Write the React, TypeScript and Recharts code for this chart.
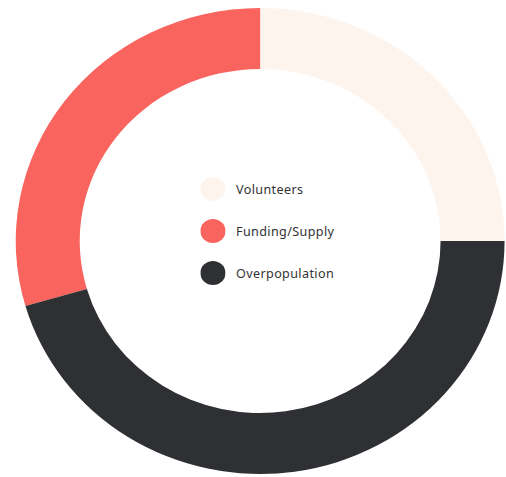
import { PieChart, Pie, Cell, Legend } from "recharts";

const CATEGORIES = ["Volunteers", "Funding/Supply", "Overpopulation"];
const SHARES = [25, 29.5, 45.5];
const COLORS = ["#fef4ee", "#f9645f", "#2f3033"];

const data = CATEGORIES.map((name, i) => ({ name, value: SHARES[i] }));

// the reference ring is slightly wider than tall, so the chart is stretched a bit on x
const STRETCH = 1.049;

function CenterLegend() {
  return (
    <div style={{ fontFamily: "'Noto Sans', sans-serif" }}>
      {data.map((d, i) => (
        <div
          key={d.name}
          style={{ display: "flex", alignItems: "center", height: 42 }}
        >
          <svg width={24} height={24} style={{ flexShrink: 0 }}>
            <circle cx={12} cy={12} r={12} fill={COLORS[i]} />
          </svg>
          <span
            style={{
              marginLeft: 10,
              fontSize: 12,
              letterSpacing: 0.35,
              color: "#333336",
            }}
          >
            {d.name}
          </span>
        </div>
      ))}
    </div>
  );
}

export default function App() {
  return (
    <>
      <style>{"html, body { margin: 0; overflow: hidden; }"}</style>
      <div
        style={{
          position: "absolute",
          left: 0,
          top: 0,
          width: 506,
          height: 477,
          overflow: "hidden",
          background: "#fff",
        }}
      >
        <div style={{ transform: `scaleX(${STRETCH})`, transformOrigin: "0 0", width: 482, height: 477 }}>
          <PieChart width={482} height={477} margin={{ top: 0, right: 0, bottom: 0, left: 0 }}>
            <Pie
              data={data}
              dataKey="value"
              nameKey="name"
              cx={248}
              cy={241}
              innerRadius={172}
              outerRadius={233}
              startAngle={0}
              endAngle={360}
              stroke="none"
              isAnimationActive={false}
            >
              {data.map((d, i) => (
                <Cell key={d.name} fill={COLORS[i]} />
              ))}
            </Pie>
            <Legend
              content={() => <CenterLegend />}
              wrapperStyle={{ position: "absolute", left: 191, top: 168, width: 140 }}
            />
          </PieChart>
        </div>
      </div>
    </>
  );
}
